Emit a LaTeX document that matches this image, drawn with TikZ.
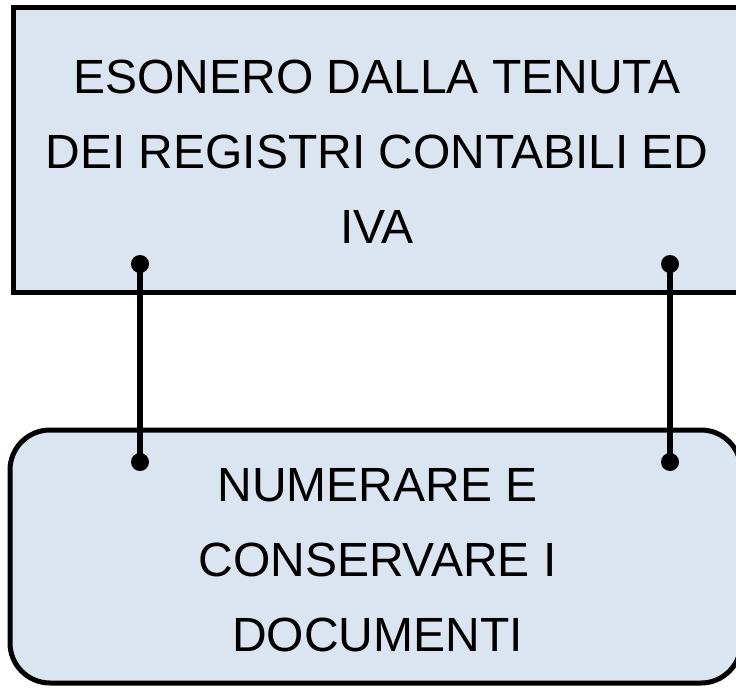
\documentclass[tikz,border=0pt]{standalone}
\usepackage{fontspec}
\setmainfont{Liberation Sans}
\definecolor{boxfill}{RGB}{219,228,241}
\begin{document}
\begin{tikzpicture}[x=1pt,y=-1pt,
  topbox/.style={draw=black,line width=5pt,fill=boxfill,rectangle,inner sep=0pt},
  botbox/.style={draw=black,line width=5pt,fill=boxfill,rectangle,rounded corners=40pt,inner sep=0pt},
  boxtext/.style={align=center,inner sep=0pt,font=\fontsize{48}{75}\selectfont},
  link/.style={line width=5.5pt},
  dot/.style={circle,fill=black,inner sep=0pt,minimum size=18pt}]
\useasboundingbox (0,0) rectangle (736,688);
\begin{scope}
\clip (0,0) rectangle (736,688);
\node[topbox,minimum width=732pt,minimum height=284.5pt] (top) at (379,149.75) {};
\node[botbox,minimum width=731pt,minimum height=253pt] (bot) at (375.5,556.5) {};
\node[boxtext] (toptext) at (377,152) {ESONERO DALLA TENUTA\\DEI REGISTRI CONTABILI ED\\IVA};
\node[boxtext] (bottext) at (377.5,560.5) {NUMERARE E\\CONSERVARE I\\DOCUMENTI};
\coordinate (a1) at (140,264);
\coordinate (b1) at (140,462);
\coordinate (a2) at (670,264);
\coordinate (b2) at (670,462);
\draw[link] (a1) -- (b1);
\draw[link] (a2) -- (b2);
\node[dot] (da1) at (a1) {};
\node[dot] (db1) at (b1) {};
\node[dot] (da2) at (a2) {};
\node[dot] (db2) at (b2) {};
\end{scope}
\end{tikzpicture}
\end{document}
